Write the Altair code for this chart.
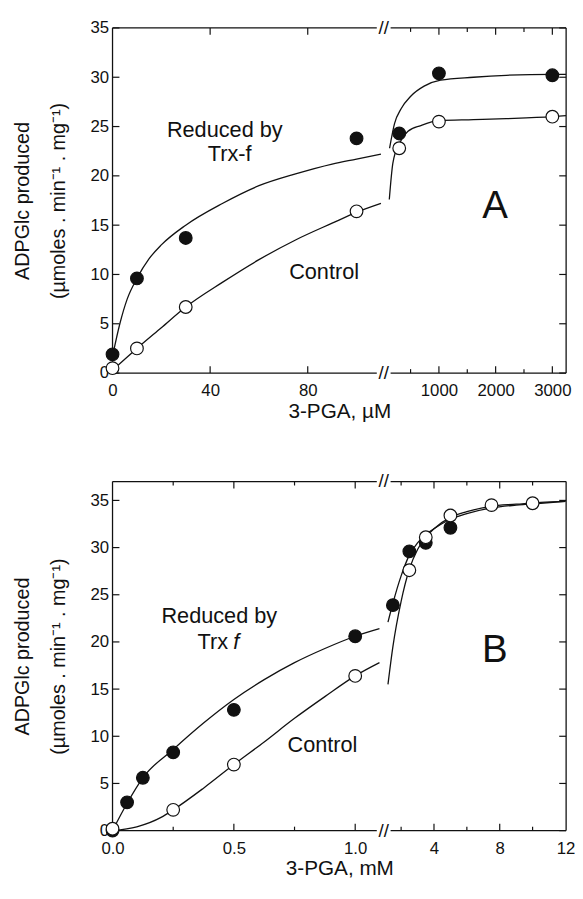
import altair as alt
import pandas as pd

FONT = "Liberation Sans"
INK = "#111111"

# ---------------- Panel A : 3-PGA in µM ----------------
a_pts_x = [0, 10, 30, 100, 300, 1000, 3000]
a_red_y = [1.9, 9.6, 13.7, 23.8, 24.3, 30.4, 30.2]
a_ctl_y = [0.5, 2.5, 6.7, 16.4, 22.8, 25.5, 26.0]

# fitted curves (low-range segment, high-range segment)
a_red_lo_x = [0, 3, 6, 10, 15, 20, 30, 45, 60, 75, 90, 100, 110]
a_red_lo_y = [1.7, 5.0, 7.5, 9.6, 11.6, 13.0, 15.0, 17.2, 19.0, 20.2, 21.2, 21.7, 22.2]
a_ctl_lo_x = [0, 10, 20, 30, 45, 60, 75, 90, 100, 110]
a_ctl_lo_y = [0.3, 2.5, 4.6, 6.7, 9.2, 11.5, 13.5, 15.2, 16.3, 17.2]
a_red_hi_x = [130, 217, 333, 507, 739, 1029, 1609, 2188, 3000, 3240]
a_red_hi_y = [22.8, 25.3, 26.8, 28.1, 29.1, 29.7, 30.0, 30.2, 30.3, 30.3]
a_ctl_hi_x = [125, 188, 304, 449, 681, 1000, 1609, 2188, 3000, 3240]
a_ctl_hi_y = [17.6, 21.3, 23.3, 24.5, 25.1, 25.6, 25.7, 25.8, 26.0, 26.1]

# ---------------- Panel B : 3-PGA in mM ----------------
b_red_x = [0, 0.06, 0.125, 0.25, 0.5, 1.0, 1.5, 2.5, 3.5, 5.0]
b_red_y = [0.0, 3.0, 5.6, 8.3, 12.8, 20.6, 23.9, 29.6, 30.5, 32.1]
b_ctl_x = [0, 0.25, 0.5, 1.0, 2.5, 3.5, 5.0, 7.5, 10.0]
b_ctl_y = [0.2, 2.2, 7.0, 16.4, 27.6, 31.1, 33.4, 34.5, 34.7]

b_red_lo_x = [0, 0.06, 0.125, 0.25, 0.375, 0.5, 0.625, 0.75, 0.875, 1.0, 1.1]
b_red_lo_y = [0.0, 2.9, 5.6, 8.6, 11.4, 13.9, 16.0, 17.8, 19.3, 20.6, 21.4]
b_ctl_lo_x = [0, 0.1, 0.2, 0.25, 0.375, 0.5, 0.625, 0.75, 0.875, 1.0, 1.1]
b_ctl_lo_y = [0.0, 0.4, 1.4, 2.2, 4.5, 7.0, 9.4, 11.9, 14.2, 16.4, 17.8]
b_red_hi_x = [1.2, 1.5, 2.0, 2.5, 3.0, 3.5, 4.0, 5.0, 6.0, 7.5, 9.0, 10.5, 12.0]
b_red_hi_y = [22.1, 24.1, 27.0, 29.2, 30.5, 31.4, 32.0, 33.0, 33.6, 34.2, 34.5, 34.7, 34.9]
b_ctl_hi_x = [1.2, 1.5, 2.0, 2.5, 3.0, 3.5, 4.0, 5.0, 6.0, 7.5, 9.0, 10.5, 12.0]
b_ctl_hi_y = [15.5, 19.5, 24.3, 27.7, 29.8, 31.1, 32.0, 33.2, 33.8, 34.4, 34.6, 34.8, 34.9]

# axis ticks / labels
a_y_ticks = [0, 5, 10, 15, 20, 25, 30, 35]
a_lo_major = [0, 40, 80]
a_hi_major = [1000, 2000, 3000]
a_hi_minor = [500, 1500, 2500]
b_y_ticks = [0, 5, 10, 15, 20, 25, 30, 35]
b_lo_major = [0.0, 0.5, 1.0]
b_lo_minor = [0.25, 0.75]
b_hi_major = [4, 8, 12]
b_hi_minor = [2, 6, 10]

Y_TITLE = ["ADPGlc produced", "(µmoles . min\u207b\u00b9 . mg\u207b\u00b9)"]

W_LO, W_HI, GAP = 268, 178, 14
MAJ, MIN = 7, 4


def curves_df(parts):
    rows = []
    for name, xs, ys in parts:
        for x, y in zip(xs, ys):
            rows.append({"x": x, "y": y, "s": name})
    return pd.DataFrame(rows)


def points_df(parts, lo, hi):
    rows = []
    for name, xs, ys in parts:
        for x, y in zip(xs, ys):
            if lo <= x <= hi:
                rows.append({"x": x, "y": y, "s": name, "o": 0 if name == "red" else 1})
    return pd.DataFrame(rows)


def segment(side, h, xdom, ydom, curves, points, xlab, xfmt, xmaj, xmin,
            yticks, xtitle=None, texts=(), breaks=False):
    w = W_LO if side == "lo" else W_HI
    xs = alt.Scale(domain=xdom, nice=False, zero=False)
    ys = alt.Scale(domain=ydom, nice=False, zero=False)
    xkw = dict(values=xlab, format=xfmt, ticks=False, domain=False, grid=False,
               labelFlush=False, labelOverlap=False, labelPadding=10,
               labelFontSize=17, labelFont=FONT, labelColor=INK)
    if xtitle:
        xkw.update(title=xtitle, titleFont=FONT, titleFontSize=21,
                   titleFontWeight="normal", titleColor=INK, titlePadding=2,
                   titleX=230)
    else:
        xkw.update(title=None)
    xaxis = alt.Axis(**xkw)
    if side == "lo":
        yaxis = alt.Axis(values=yticks, format="d", ticks=False, domain=False,
                         grid=False, labelPadding=4, labelFontSize=17,
                         labelFont=FONT, labelColor=INK, labelFlush=False,
                         labelOverlap=False,
                         title=Y_TITLE, titleFont=FONT, titleFontSize=20,
                         titleFontWeight="normal", titleColor=INK,
                         titleLineHeight=36, titlePadding=22)
    else:
        yaxis = None

    X = lambda: alt.X("x:Q", scale=xs, axis=xaxis)
    Y = lambda: alt.Y("y:Q", scale=ys, axis=yaxis)

    layers = []
    one = pd.DataFrame({"k": [0]})
    # frame
    for yv in (0, h):
        layers.append(alt.Chart(one).mark_rule(color=INK, strokeWidth=1.3).encode(
            x=alt.value(0), x2=alt.value(w), y=alt.value(yv)))
    xv = 0 if side == "lo" else w
    layers.append(alt.Chart(one).mark_rule(color=INK, strokeWidth=1.3).encode(
        x=alt.value(xv), y=alt.value(0), y2=alt.value(h)))
    # x ticks (top and bottom, inward)
    for vals, ln in ((xmaj, MAJ), (xmin, MIN)):
        if not vals:
            continue
        tdf = pd.DataFrame({"x": vals})
        layers.append(alt.Chart(tdf).mark_rule(color=INK, strokeWidth=1.2).encode(
            x=X(), y=alt.value(h), y2=alt.value(h - ln)))
        layers.append(alt.Chart(tdf).mark_rule(color=INK, strokeWidth=1.2).encode(
            x=X(), y=alt.value(0), y2=alt.value(ln)))
    # y ticks (inward)
    ydf = pd.DataFrame({"y": yticks})
    x0 = 0 if side == "lo" else w
    x1 = MAJ if side == "lo" else w - MAJ
    layers.append(alt.Chart(ydf).mark_rule(color=INK, strokeWidth=1.2).encode(
        y=Y(), x=alt.value(x0), x2=alt.value(x1)))
    # curves
    layers.append(alt.Chart(curves).mark_line(
        color=INK, strokeWidth=1.3, interpolate="monotone", clip=False).encode(
        x=X(), y=Y(), detail="s:N"))
    # points (filled drawn first, open on top)
    if len(points):
        layers.append(alt.Chart(points).mark_point(
            shape="circle", size=165, filled=True, stroke=INK, strokeWidth=1.2,
            opacity=1).encode(
            x=X(), y=Y(),
            fill=alt.Fill("s:N", scale=alt.Scale(domain=["red", "ctl"],
                                                 range=[INK, "white"]),
                          legend=None),
            order=alt.Order("o:Q")))
    # annotations
    for t in texts:
        tx, ty, label, size, align, style = t
        tdf = pd.DataFrame({"x": [tx], "y": [ty], "t": [label]})
        kw = dict(font=FONT, fontSize=size, color=INK, align=align,
                  baseline="middle")
        if style:
            kw["fontStyle"] = style
        layers.append(alt.Chart(tdf).mark_text(**kw).encode(
            x=X(), y=Y(), text="t:N"))
    # axis break marks
    if breaks:
        for yv in (0, h):
            layers.append(alt.Chart(one).mark_text(
                text="//", font=FONT, fontSize=19, color=INK, align="center",
                baseline="middle").encode(x=alt.value(w + GAP / 2), y=alt.value(yv)))
    return alt.layer(*layers).properties(width=w, height=h)


# ----- Panel A -----
HA = 350
a_curves_lo = curves_df([("red", a_red_lo_x, a_red_lo_y), ("ctl", a_ctl_lo_x, a_ctl_lo_y)])
a_curves_hi = curves_df([("red", a_red_hi_x, a_red_hi_y), ("ctl", a_ctl_hi_x, a_ctl_hi_y)])
a_pts = [("red", a_pts_x, a_red_y), ("ctl", a_pts_x, a_ctl_y)]
a_lo = segment("lo", HA, [0, 108.3], [0, 35], a_curves_lo,
               points_df(a_pts, 0, 108.3),
               a_lo_major, "d", [40, 80], [], a_y_ticks, xtitle="3-PGA, µM",
               texts=[(46, 24.6, "Reduced by", 22, "center", None),
                      (48, 22.2, "Trx-f", 22, "center", None),
                      (86.7, 10.2, "Control", 22, "center", None)],
               breaks=True)
a_hi = segment("hi", HA, [148, 3243], [0, 35], a_curves_hi,
               points_df(a_pts, 148, 3243),
               a_hi_major, "d", a_hi_major, a_hi_minor, a_y_ticks,
               texts=[(1991, 16.9, "A", 39, "center", None)])

# ----- Panel B -----
HB = 354
b_curves_lo = curves_df([("red", b_red_lo_x, b_red_lo_y), ("ctl", b_ctl_lo_x, b_ctl_lo_y)])
b_curves_hi = curves_df([("red", b_red_hi_x, b_red_hi_y), ("ctl", b_ctl_hi_x, b_ctl_hi_y)])
b_pts = [("red", b_red_x, b_red_y), ("ctl", b_ctl_x, b_ctl_y)]
b_lo = segment("lo", HB, [0, 1.089], [0, 37], b_curves_lo,
               points_df(b_pts, 0, 1.089),
               b_lo_major, ".1f", [0.5, 1.0], b_lo_minor, b_y_ticks,
               xtitle="3-PGA, mM",
               texts=[(0.44, 22.7, "Reduced by", 22, "center", None),
                      (0.476, 20.0, "Trx", 22, "right", None),
                      (0.497, 20.0, "f", 22, "left", "italic"),
                      (0.865, 9.1, "Control", 22, "center", None)],
               breaks=True)
b_hi = segment("hi", HB, [1.36, 12.04], [0, 37], b_curves_hi,
               points_df(b_pts, 1.36, 12.04),
               b_hi_major, "d", [4, 8], b_hi_minor, b_y_ticks,
               texts=[(7.7, 19.1, "B", 39, "center", None)])

row_a = alt.hconcat(a_lo, a_hi, spacing=GAP, bounds="flush")
row_b = alt.hconcat(b_lo, b_hi, spacing=GAP, bounds="flush")

chart = alt.vconcat(row_a, row_b, spacing=52).configure(
    padding={"left": 5, "top": 5, "right": 0, "bottom": 5}, font=FONT,
    view=alt.ViewConfig(strokeWidth=0, stroke="transparent"))

chart.save("out.html", embed_options={"renderer": "svg", "actions": False})
